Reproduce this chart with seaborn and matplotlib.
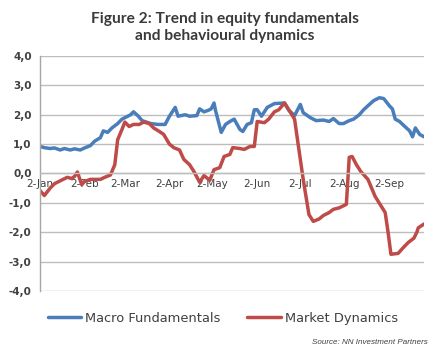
import matplotlib
matplotlib.use("Agg")
import matplotlib.pyplot as plt
import matplotlib.dates as mdates
from matplotlib.ticker import FuncFormatter
from matplotlib.lines import Line2D
import pandas as pd
import seaborn as sns

# Macro Fundamentals series
macro_dates = [
    "2015-01-02", "2015-01-05", "2015-01-09", "2015-01-12", "2015-01-16", "2015-01-19",
    "2015-01-23", "2015-01-26", "2015-01-30", "2015-02-02", "2015-02-06", "2015-02-09",
    "2015-02-13", "2015-02-15", "2015-02-18", "2015-02-21", "2015-02-25", "2015-02-28",
    "2015-03-04", "2015-03-06", "2015-03-08", "2015-03-11", "2015-03-14", "2015-03-20",
    "2015-03-25", "2015-03-30", "2015-04-02", "2015-04-06", "2015-04-08", "2015-04-13",
    "2015-04-16", "2015-04-21", "2015-04-23", "2015-04-26", "2015-04-29", "2015-05-01",
    "2015-05-03", "2015-05-04", "2015-05-08", "2015-05-11", "2015-05-14", "2015-05-17",
    "2015-05-21", "2015-05-23", "2015-05-26", "2015-05-29", "2015-05-31", "2015-06-02",
    "2015-06-05", "2015-06-09", "2015-06-14", "2015-06-21", "2015-06-24", "2015-06-28",
    "2015-07-02", "2015-07-04", "2015-07-09", "2015-07-13", "2015-07-18", "2015-07-22",
    "2015-07-25", "2015-07-29", "2015-08-01", "2015-08-05", "2015-08-08", "2015-08-12",
    "2015-08-15", "2015-08-19", "2015-08-22", "2015-08-26", "2015-08-29", "2015-09-02",
    "2015-09-04", "2015-09-06", "2015-09-09", "2015-09-12", "2015-09-16", "2015-09-18",
    "2015-09-20", "2015-09-23", "2015-09-26",
]
macro_values = [
    0.92, 0.88, 0.85, 0.87, 0.80, 0.85,
    0.80, 0.84, 0.80, 0.87, 0.95, 1.10,
    1.22, 1.45, 1.40, 1.55, 1.70, 1.85,
    1.95, 2.00, 2.10, 1.97, 1.80, 1.70,
    1.67, 1.67, 1.95, 2.25, 1.95, 2.00,
    1.95, 1.97, 2.20, 2.10, 2.15, 2.20,
    2.40, 2.15, 1.40, 1.67, 1.77, 1.85,
    1.50, 1.43, 1.67, 1.73, 2.17, 2.17,
    1.95, 2.25, 2.38, 2.40, 2.15, 1.97,
    2.35, 2.07, 1.90, 1.80, 1.82, 1.77,
    1.87, 1.70, 1.70, 1.80, 1.85, 2.00,
    2.17, 2.35, 2.48, 2.58, 2.55, 2.30,
    2.20, 1.85, 1.77, 1.63, 1.45, 1.25,
    1.55, 1.33, 1.25,
]

# Market Dynamics series
market_dates = [
    "2015-01-02", "2015-01-05", "2015-01-09", "2015-01-12", "2015-01-16", "2015-01-21",
    "2015-01-24", "2015-01-26", "2015-01-28", "2015-01-31", "2015-02-02", "2015-02-06",
    "2015-02-13", "2015-02-16", "2015-02-20", "2015-02-23", "2015-02-25", "2015-02-28",
    "2015-03-02", "2015-03-05", "2015-03-08", "2015-03-12", "2015-03-15", "2015-03-19",
    "2015-03-22", "2015-03-26", "2015-03-29", "2015-04-02", "2015-04-05", "2015-04-09",
    "2015-04-12", "2015-04-16", "2015-04-19", "2015-04-23", "2015-04-26", "2015-04-30",
    "2015-05-03", "2015-05-07", "2015-05-10", "2015-05-14", "2015-05-16", "2015-05-21",
    "2015-05-24", "2015-05-28", "2015-05-31", "2015-06-02", "2015-06-07", "2015-06-10",
    "2015-06-14", "2015-06-17", "2015-06-21", "2015-06-24", "2015-06-28", "2015-07-01",
    "2015-07-04", "2015-07-08", "2015-07-11", "2015-07-15", "2015-07-18", "2015-07-22",
    "2015-07-25", "2015-07-29", "2015-08-03", "2015-08-05", "2015-08-07", "2015-08-10",
    "2015-08-13", "2015-08-18", "2015-08-23", "2015-08-30", "2015-09-01", "2015-09-03",
    "2015-09-08", "2015-09-12", "2015-09-15", "2015-09-19", "2015-09-21", "2015-09-22",
    "2015-09-26",
]
market_values = [
    -0.58, -0.75, -0.50, -0.35, -0.25, -0.13,
    -0.17, -0.10, 0.05, -0.38, -0.27, -0.20,
    -0.20, -0.13, -0.05, 0.30, 1.15, 1.50,
    1.75, 1.60, 1.67, 1.67, 1.75, 1.70,
    1.55, 1.43, 1.33, 1.00, 0.88, 0.80,
    0.48, 0.30, 0.07, -0.30, -0.07, -0.23,
    0.13, 0.20, 0.58, 0.65, 0.88, 0.85,
    0.82, 0.92, 0.92, 1.77, 1.73, 1.85,
    2.10, 2.17, 2.40, 2.17, 1.85, 0.82,
    -0.20, -1.40, -1.63, -1.55, -1.43, -1.33,
    -1.22, -1.17, -1.05, 0.55, 0.58, 0.30,
    0.07, -0.20, -0.78, -1.33, -2.00, -2.75,
    -2.72, -2.50, -2.35, -2.20, -2.00, -1.85,
    -1.72,
]

series_names = ["Macro Fundamentals", "Market Dynamics"]
series_colors = ["#4A7EBB", "#BE4B48"]
y_ticks = [-4, -3, -2, -1, 0, 1, 2, 3, 4]

df = pd.concat([
    pd.DataFrame({"date": pd.to_datetime(macro_dates), "value": macro_values,
                  "series": series_names[0]}),
    pd.DataFrame({"date": pd.to_datetime(market_dates), "value": market_values,
                  "series": series_names[1]}),
], ignore_index=True)

sns.set_style("white")
plt.rcParams["font.family"] = ["DejaVu Sans"]

fig = plt.figure(figsize=(4.41, 3.5), dpi=100)
ax = fig.add_axes([0.0907, 0.1686, 0.8708, 0.6714])

sns.lineplot(data=df, x="date", y="value", hue="series", hue_order=series_names,
             palette=series_colors, linewidth=2.5, legend=False, ax=ax,
             estimator=None, sort=False)

ax.set_ylim(-4, 4)
ax.set_xlim(df["date"].min(), df["date"].max())
ax.set_yticks(y_ticks)
ax.yaxis.set_major_formatter(FuncFormatter(lambda v, _: f"{v:.1f}".replace(".", ",")))
ax.xaxis.set_major_locator(mdates.MonthLocator(bymonthday=2))
ax.xaxis.set_major_formatter(mdates.DateFormatter("%-d-%b"))

grid_color = "#BDBDBD"
ax.grid(axis="y", color=grid_color, linewidth=1.0)
ax.set_axisbelow(True)
for side in ["top", "right"]:
    ax.spines[side].set_visible(False)
ax.spines["left"].set_color("#A6A6A6")
ax.spines["left"].set_linewidth(1.0)
ax.spines["bottom"].set_position(("data", 0))
ax.spines["bottom"].set_color(grid_color)
ax.spines["bottom"].set_linewidth(1.0)

ax.tick_params(axis="y", direction="out", length=3, width=0.8, color="#A6A6A6",
               labelsize=7.5, labelcolor="#404040", pad=3)
for lbl in ax.get_yticklabels():
    lbl.set_fontweight("bold")
ax.tick_params(axis="x", direction="out", length=3, width=0.8, color="#A6A6A6",
               labelsize=7.5, labelcolor="#404040", pad=1)
ax.set_xlabel("")
ax.set_ylabel("")

fig.text(0.51, 0.965, "Figure 2: Trend in equity fundamentals\nand behavioural dynamics",
         ha="center", va="top", fontsize=11.2, fontweight="bold", color="#3A3A3A",
         family=["Lato", "DejaVu Sans"], linespacing=1.25)

handles = [Line2D([0], [0], color=c, linewidth=2.5) for c in series_colors]
fig.legend(handles, series_names, loc="center", bbox_to_anchor=(0.505, 0.09), ncol=2,
           frameon=False, fontsize=9.4, handlelength=2.6, handletextpad=0.3,
           columnspacing=2.0, labelcolor="#404040")

fig.text(0.97, 0.012, "Source: NN Investment Partners", ha="right", va="bottom",
         fontsize=5.8, style="italic", color="#404040",
         family=["Liberation Sans Narrow", "Liberation Sans"])

fig.savefig("out.png", dpi=100)
